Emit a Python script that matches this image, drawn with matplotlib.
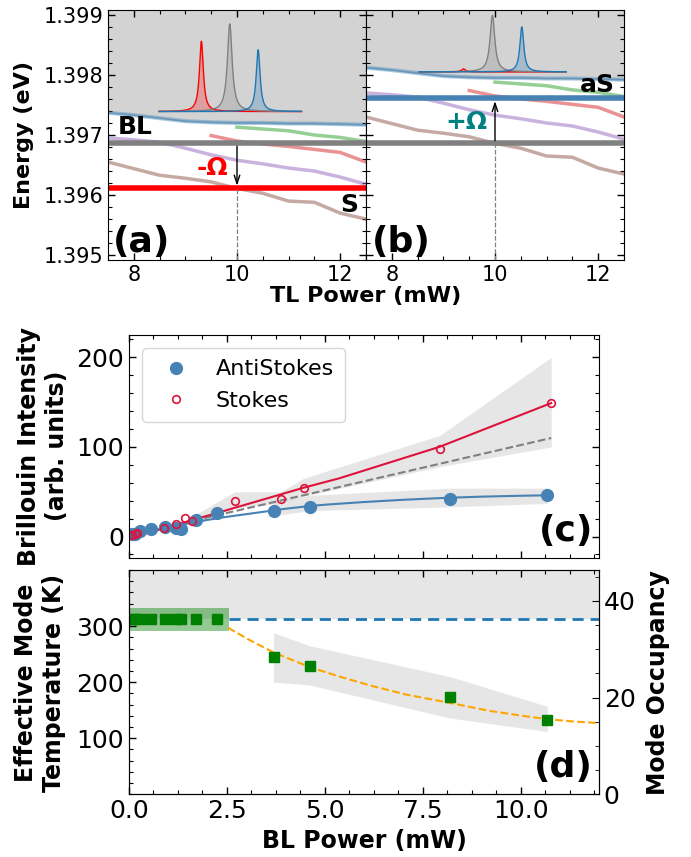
import numpy as np
import matplotlib
matplotlib.use('Agg')
import matplotlib.pyplot as plt
from matplotlib.ticker import MultipleLocator, FixedLocator, FormatStrFormatter


# DONNEES PANNEAUX (a) ET (b) : énergies des modes vs puissance TL

tl_puissance = [7.5, 8.0, 8.5, 9.0, 9.5, 10.0, 10.5, 11.0, 11.5, 12.0, 12.5]
mode_bleu = [1.39737, 1.39733, 1.39728, 1.39723, 1.39721, 1.39720,
             1.39720, 1.39719, 1.39719, 1.39718, 1.39717]
mode_violet = [1.39695, 1.39692, 1.39688, 1.39678, 1.39667, 1.39658,
               1.39652, 1.39645, 1.39640, 1.39630, 1.39618]
mode_brun = [1.39655, 1.39644, 1.39633, 1.39628, 1.39622, 1.39611,
             1.39603, 1.39590, 1.39588, 1.39570, 1.39560]
vert_x = [10.0, 10.5, 11.0, 11.5, 12.0, 12.5]
mode_vert = [1.39713, 1.39710, 1.39707, 1.39700, 1.39696, 1.39689]
rouge_x = [9.5, 10.0, 10.5, 11.0, 11.5, 12.0, 12.5]
mode_rouge = [1.39699, 1.39690, 1.39685, 1.39681, 1.39676, 1.39671, 1.39655]

E_BL = 1.39686      # laser de pompe (BL)
OMEGA = 0.00075     # décalage Brillouin
TL_REF = 10.0       # puissance TL choisie

# spectres insérés (pics lorentziens) : S, BL, aS
spec_a_centres = [9.31, 9.86, 10.41]
spec_a_hauteurs = [0.00117, 0.00146, 0.00103]
spec_a_base = 1.39739
spec_a_bornes = [8.49, 11.25]
spec_b_centres = [9.39, 9.95, 10.52]
spec_b_hauteurs = [0.00005, 0.00094, 0.00075]
spec_b_base = 1.39805
spec_b_bornes = [8.53, 11.38]
spec_largeurs = [0.045, 0.055, 0.045]
spec_couleurs = ['red', 'gray', 'tab:blue']

# DONNEES PANNEAU (c) : intensité Brillouin vs puissance BL

as_x = [0.07, 0.15, 0.28, 0.55, 0.93, 1.19, 1.34, 1.71, 2.25, 3.69, 4.61, 8.19, 10.68]
as_y = [3.0, 3.0, 5.6, 8.6, 10.5, 9.4, 8.6, 17.9, 26.8, 29.0, 33.5, 42.0, 45.8]
s_x = [0.07, 0.15, 0.21, 0.89, 1.20, 1.44, 1.60, 2.70, 3.87, 4.46, 7.94, 10.78]
s_y = [1.9, 3.0, 3.7, 9.0, 14.5, 20.9, 16.8, 40.2, 42.4, 54.7, 98.2, 149.6]

fit_as_x = [0, 0.5, 1, 1.5, 2, 2.5, 3, 3.5, 4, 4.5, 5, 6, 7, 8, 9, 10, 10.7]
fit_as_y = [1, 5.5, 10, 14.5, 18.5, 22, 25, 28, 31, 33.5, 35.5, 38.5, 41, 43, 44.5, 45.5, 46]
fit_s_x = [0, 1.7, 2.15, 4.46, 5.37, 7.92, 10.78]
fit_s_y = [-2, 19.5, 25, 54.5, 65, 100, 149]
lin_x = [0, 10.78]
lin_y = [1, 110]

bande_s_x = [1.6, 2.7, 3.87, 4.46, 7.94, 10.78]
bande_s_haut = [22, 50, 50, 65, 113, 200]
bande_s_bas = [14, 32, 37, 45, 78, 100]
bande_as_x = [3.69, 4.61, 8.19, 10.68]
bande_as_haut = [38, 46, 54, 54]
bande_as_bas = [23, 29, 33, 37]

# DONNEES PANNEAU (d) : température effective du mode

temp_x = as_x
temp_y = [313] * 9 + [244.5, 229.6, 173.5, 132.8]
T_AMB = 313
boite_x = [0, 2.55]
boite_bas, boite_haut = 292, 333
fit_t_x = [2.53, 3.08, 3.69, 4.61, 5.37, 6.22, 7.07, 8.19, 9.19, 10.04, 10.68, 11.31, 12.0]
fit_t_y = [297, 275, 253, 227, 210, 193, 178, 163, 149, 140, 134, 130, 127]
bande_t_x = [3.69, 4.61, 8.19, 10.68]
bande_t_haut = [288, 265, 210, 157]
bande_t_bas = [200, 195, 136, 112]


def lorentz(x, x0, h, g):
    return h * g**2 / ((x - x0)**2 + g**2)


def reglage_ticks(ax):
    ax.tick_params(which='both', direction='in', top=True, right=True)
    ax.tick_params(which='major', length=5, width=1)
    ax.tick_params(which='minor', length=3, width=0.8)


def panneau_energie(ax, decal, centres, hauteurs, base, bornes):
    y_bas, y_haut = 1.39492, 1.39908
    bleu = np.array(mode_bleu) + decal
    ax.fill_between(tl_puissance, bleu, y_haut, color='lightgray', zorder=0)
    ax.plot(tl_puissance, bleu, color='tab:blue', lw=3, alpha=0.35)
    ax.plot(tl_puissance, bleu, color='steelblue', lw=1, alpha=0.6)
    ax.plot(vert_x, np.array(mode_vert) + decal, color='tab:green', lw=2.5, alpha=0.5)
    ax.plot(rouge_x, np.array(mode_rouge) + decal, color='tab:red', lw=2.5, alpha=0.5)
    ax.plot(tl_puissance, np.array(mode_violet) + decal, color='tab:purple', lw=2.5, alpha=0.5)
    ax.plot(tl_puissance, np.array(mode_brun) + decal, color='tab:brown', lw=2.5, alpha=0.5)

    # spectre inséré
    xs = np.linspace(bornes[0], bornes[1], 600)
    for c, h, g, col in zip(centres, hauteurs, spec_largeurs, spec_couleurs):
        ys = base + lorentz(xs, c, h, g)
        ax.fill_between(xs, base, ys, color=col, alpha=0.25, lw=0)
        ax.plot(xs, ys, color=col, lw=1)

    ax.axhline(E_BL, color='gray', lw=4)
    ax.set_xlim(7.5, 12.5)
    ax.set_ylim(y_bas, y_haut)
    ax.xaxis.set_major_locator(MultipleLocator(2))
    ax.xaxis.set_minor_locator(MultipleLocator(0.5))
    ax.yaxis.set_major_locator(MultipleLocator(0.001))
    ax.yaxis.set_minor_locator(MultipleLocator(0.0002))
    ax.yaxis.set_major_formatter(FormatStrFormatter('%.3f'))
    reglage_ticks(ax)
    ax.tick_params(labelsize=15)
    return y_bas


fig = plt.figure(figsize=(6.91, 8.57), dpi=100)
W, H = 691, 857

ax_a = fig.add_axes([108 / W, 1 - 260 / H, 258 / W, 250 / H])
ax_b = fig.add_axes([366 / W, 1 - 260 / H, 258 / W, 250 / H], sharey=ax_a)

# (a) : Stokes
y_bas = panneau_energie(ax_a, 0.0, spec_a_centres, spec_a_hauteurs, spec_a_base, spec_a_bornes)
E_S = E_BL - OMEGA
ax_a.axhline(E_S, color='red', lw=4)
ax_a.plot([TL_REF, TL_REF], [y_bas, E_S], ls='--', color='gray', lw=0.9)
ax_a.annotate('', xy=(TL_REF, E_S), xytext=(TL_REF, E_BL),
              arrowprops=dict(arrowstyle='->,head_length=0.6,head_width=0.2', color='k', lw=1))
ax_a.text(7.68, 1.39714, 'BL', fontsize=18, fontweight='bold', va='center', ha='left')
ax_a.text(9.52, 1.39645, '-Ω', fontsize=18, fontweight='bold', color='red', va='center', ha='center')
ax_a.text(12.18, 1.39583, 'S', fontsize=18, fontweight='bold', va='center', ha='center')
ax_a.text(7.6, 1.39522, '(a)', fontsize=26, fontweight='bold', va='center', ha='left')
ax_a.set_ylabel('Energy (eV)', fontsize=16, fontweight='bold')

# (b) : anti-Stokes
panneau_energie(ax_b, OMEGA, spec_b_centres, spec_b_hauteurs, spec_b_base, spec_b_bornes)
E_AS = E_BL + OMEGA
ax_b.axhline(E_AS, color='steelblue', lw=4)
ax_b.plot([TL_REF, TL_REF], [y_bas, E_BL], ls='--', color='gray', lw=0.9)
ax_b.annotate('', xy=(TL_REF, E_AS), xytext=(TL_REF, E_BL),
              arrowprops=dict(arrowstyle='->,head_length=0.6,head_width=0.2', color='k', lw=1))
ax_b.text(11.99, 1.39783, 'aS', fontsize=18, fontweight='bold', va='center', ha='center')
ax_b.text(9.44, 1.39721, '+Ω', fontsize=18, fontweight='bold', color='teal', va='center', ha='center')
ax_b.text(7.62, 1.39522, '(b)', fontsize=26, fontweight='bold', va='center', ha='left')
ax_b.tick_params(labelleft=False)

fig.text(366 / W, 1 - 296 / H, 'TL Power (mW)', fontsize=16, fontweight='bold',
         ha='center', va='center')
ax_a.yaxis.set_label_coords(-0.285, 0.5)

# (c) : intensité Brillouin
ax_c = fig.add_axes([129 / W, 1 - 558 / H, 470 / W, 223 / H])
ax_c.fill_between(bande_s_x, bande_s_bas, bande_s_haut, color='lightgray', alpha=0.55, lw=0)
ax_c.fill_between(bande_as_x, bande_as_bas, bande_as_haut, color='lightgray', alpha=0.55, lw=0)
ax_c.plot(lin_x, lin_y, ls='--', color='gray', lw=1.5)
ax_c.plot(fit_as_x, fit_as_y, color='steelblue', lw=1.5)
ax_c.plot(fit_s_x, fit_s_y, color='crimson', lw=1.5)
ax_c.plot(as_x, as_y, 'o', color='steelblue', markersize=8.5, label='AntiStokes')
ax_c.plot(s_x, s_y, 'o', mfc='none', mec='crimson', mew=1.2, markersize=5.5, label='Stokes')
ax_c.set_xlim(0, 12)
ax_c.set_ylim(-24, 225)
ax_c.xaxis.set_major_locator(MultipleLocator(2.5))
ax_c.xaxis.set_minor_locator(MultipleLocator(0.625))
ax_c.yaxis.set_major_locator(MultipleLocator(100))
ax_c.yaxis.set_minor_locator(MultipleLocator(20))
reglage_ticks(ax_c)
ax_c.tick_params(labelsize=18, labelbottom=False)
ax_c.legend(loc='upper left', fontsize=16, numpoints=1, borderpad=0.5,
            bbox_to_anchor=(0.005, 0.99))
ax_c.text(11.85, 5.6, '(c)', fontsize=26, fontweight='bold', va='center', ha='right')
fig.text(43 / W, 1 - 446 / H, 'Brillouin Intensity\n(arb. units)', fontsize=17,
         fontweight='bold', rotation=90, ha='center', va='center', multialignment='center')

# (d) : température effective
ax_d = fig.add_axes([129 / W, 1 - 794.3 / H, 470 / W, 224.3 / H])
ax_d.fill_between([0, 12], T_AMB, 400, color='lightgray', alpha=0.55, lw=0)
ax_d.fill_between(bande_t_x, bande_t_bas, bande_t_haut, color='lightgray', alpha=0.55, lw=0)
ax_d.plot([boite_x[1], 12], [T_AMB, T_AMB], color='tab:blue', ls='--', lw=2, dashes=(4, 2.5))
ax_d.fill_between(boite_x, boite_bas, boite_haut, color='green', alpha=0.42, lw=0)
ax_d.plot(fit_t_x, fit_t_y, ls='--', color='orange', lw=1.5)
ax_d.plot(temp_x, temp_y, 's', color='green', markersize=7)
ax_d.set_xlim(0, 12)
ax_d.set_ylim(0, 400)
ax_d.xaxis.set_major_locator(MultipleLocator(2.5))
ax_d.xaxis.set_minor_locator(MultipleLocator(0.625))
ax_d.xaxis.set_major_formatter(FormatStrFormatter('%.1f'))
ax_d.yaxis.set_major_locator(FixedLocator([100, 200, 300]))
ax_d.yaxis.set_minor_locator(MultipleLocator(20))
reglage_ticks(ax_d)
ax_d.tick_params(right=False, which='both')
ax_d.tick_params(labelsize=18)
ax_d.set_xlabel('BL Power (mW)', fontsize=17, fontweight='bold')
ax_d.text(11.85, 49, '(d)', fontsize=26, fontweight='bold', va='center', ha='right')
fig.text(40 / W, 1 - 683 / H, 'Effective Mode\nTemperature (K)', fontsize=17,
         fontweight='bold', rotation=90, ha='center', va='center', multialignment='center')

ax_n = ax_d.twinx()
ax_n.set_ylim(0, 46.4)
ax_n.yaxis.set_major_locator(MultipleLocator(20))
ax_n.yaxis.set_minor_locator(MultipleLocator(5))
ax_n.tick_params(which='both', direction='in', labelsize=18)
ax_n.tick_params(which='major', length=5)
ax_n.tick_params(which='minor', length=3)
ax_n.set_ylabel('Mode Occupancy', fontsize=17, fontweight='bold')
ax_n.yaxis.set_label_coords(1.1, 0.5)

plt.savefig('out.png', dpi=100)
